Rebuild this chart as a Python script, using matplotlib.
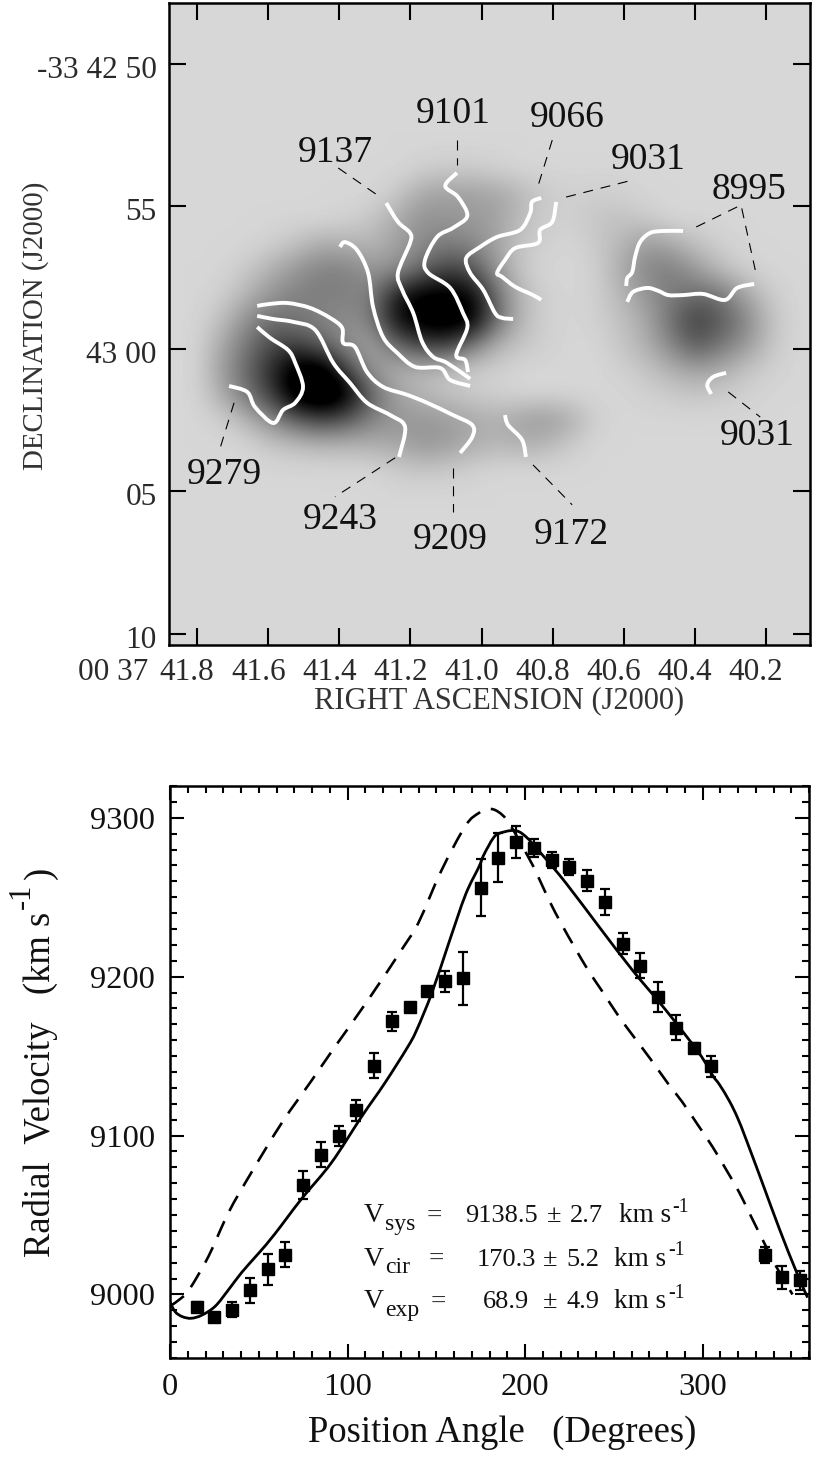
import matplotlib
matplotlib.use("Agg")
import matplotlib.pyplot as plt
import matplotlib.transforms as mtrans
from matplotlib.patches import PathPatch
from matplotlib.path import Path
import numpy as np

plt.rcParams['font.family'] = ['Liberation Serif', 'DejaVu Serif']

flux = [
    [0,0,0,0,0,0,0,0,0,0,0,0,0,0,0,0,0,0,0,0,0,0,0,0,0],
    [0,0,0,0,0,0,0,0,0,3,6,5,3,0,0,0,0,0,0,0,0,0,0,0,0],
    [0,0,0,0,0,0,0,0,6,22,26,26,24,15,6,3,4,3,0,0,0,0,0,0,0],
    [0,0,0,0,0,0,2,8,20,32,30,28,25,12,4,3,8,10,6,0,0,0,0,0,0],
    [0,0,0,3,10,20,18,15,25,35,42,38,24,8,3,0,6,15,28,22,10,3,0,0,0],
    [0,0,6,18,30,40,40,30,32,50,70,62,30,7,0,0,3,20,38,42,28,12,3,0,0],
    [0,3,15,30,40,42,40,40,85,105,105,100,50,14,3,0,3,15,30,42,50,45,22,5,0],
    [0,10,32,48,44,38,34,40,95,110,115,110,52,14,3,0,3,10,22,48,72,58,38,10,0],
    [0,20,44,65,70,55,34,22,50,70,75,45,18,8,3,0,0,8,18,38,60,45,30,8,0],
    [0,25,50,80,110,115,70,30,18,15,10,5,3,0,0,0,0,3,8,18,25,20,8,3,0],
    [0,18,45,70,115,130,110,55,25,15,10,5,3,0,0,0,0,0,3,5,8,5,3,0,0],
    [0,3,15,35,55,70,60,40,30,30,28,22,18,25,30,20,3,0,0,0,0,0,0,0,0],
    [0,0,0,8,12,15,15,18,22,30,28,20,15,18,15,5,0,0,0,0,0,0,0,0,0],
    [0,0,0,0,0,0,0,0,5,8,6,3,0,0,0,0,0,0,0,0,0,0,0,0,0],
    [0,0,0,0,0,0,0,0,0,0,0,0,0,0,0,0,0,0,0,0,0,0,0,0,0],
]
map_extent = [41.841, 40.083, 15.56, 2.40]

# contours (RA seconds, arcsec below -33 42 50)
c9279_ra = [41.710,41.659,41.637,41.586,41.558,41.524,41.502,41.524,41.544,41.595,41.631]
c9279_de = [11.30,11.51,12.04,12.60,12.14,11.89,11.33,10.49,10.04,9.61,9.23]
c9243_ra = [41.232,41.215,41.257,41.322,41.370,41.417,41.468,41.530,41.586,41.631]
c9243_de = [13.79,12.74,12.32,11.89,11.19,10.49,9.33,9.05,8.95,8.84]
c9209_ra = [41.060,41.026,41.026,41.080,41.153,41.209,41.277,41.322,41.356,41.389,41.392,41.426,41.482,41.544,41.595,41.631]
c9209_de = [13.65,13.09,12.67,12.32,11.89,11.61,11.33,10.81,9.93,9.79,9.26,8.91,8.56,8.39,8.42,8.49]
c9172a_ra = [40.934,40.925,40.886,40.875]
c9172a_de = [12.32,12.67,13.19,13.79]
c9172b_ra = [41.398,41.384,41.350,41.319,41.305,41.277,41.237,41.187,41.116,41.088,41.032]
c9172b_de = [6.42,6.25,6.53,7.33,8.53,9.58,10.14,10.63,10.67,11.09,11.30]
c9137_ra = [41.268,41.235,41.201,41.201,41.235,41.223,41.192,41.167,41.136,41.097,41.032]
c9137_de = [4.88,5.54,5.93,6.28,7.33,7.93,8.74,9.75,10.28,10.49,11.05]
c9101_ra = [41.069,41.102,41.066,41.040,41.080,41.125,41.159,41.150,41.088,41.052,41.040,41.071,41.046,41.038]
c9101_de = [3.82,4.28,4.67,5.33,5.75,6.07,6.88,7.33,7.86,8.74,9.26,10.21,10.39,10.81]
c9066_ra = [40.832,40.858,40.863,40.891,40.956,41.004,41.043,41.032,40.995,40.962,40.942,40.911]
c9066_de = [4.70,4.84,5.23,5.82,6.07,6.42,6.81,7.33,7.93,8.74,8.91,8.95]
c9031a_ra = [40.790,40.801,40.835,40.841,40.905,40.934,40.956,40.942,40.905,40.855,40.832]
c9031a_de = [4.84,5.54,5.82,6.28,6.46,6.88,7.33,7.47,7.82,8.11,8.28]
c8995a_ra = [40.433,40.489,40.526,40.554,40.568,40.576,40.590,40.593]
c8995a_de = [5.86,5.86,5.93,6.25,6.77,7.30,7.51,7.79]
c8995b_ra = [40.590,40.574,40.534,40.503,40.475,40.433,40.377,40.315,40.281,40.233]
c8995b_de = [8.35,8.00,7.86,7.96,8.11,8.11,8.07,8.28,7.86,7.72]
c9031b_ra = [40.312,40.348,40.365,40.354]
c9031b_de = [10.84,10.98,11.26,11.58]

contours = [(c9279_ra, c9279_de), (c9243_ra, c9243_de), (c9209_ra, c9209_de),
            (c9172a_ra, c9172a_de), (c9172b_ra, c9172b_de), (c9137_ra, c9137_de),
            (c9101_ra, c9101_de), (c9066_ra, c9066_de), (c9031a_ra, c9031a_de),
            (c8995a_ra, c8995a_de), (c8995b_ra, c8995b_de), (c9031b_ra, c9031b_de)]

leaders = [([41.696,41.735], [11.89,13.47]),
           ([41.243,41.412], [13.82,15.19]),
           ([41.080,41.080], [14.18,15.72]),
           ([40.855,40.745], [14.07,15.47]),
           ([41.403,41.285], [3.65,4.67]),
           ([41.069,41.069], [2.67,3.54]),
           ([40.801,40.841], [2.67,4.28]),
           ([40.762,40.574], [4.67,4.07]),
           ([40.396,40.270,40.230], [5.72,4.95,7.23]),
           ([40.306,40.216], [11.51,12.39])]

vel_labels = ['9101', '9066', '9137', '9031', '8995', '9031', '9279', '9243', '9209', '9172']
vel_label_ra = [41.080, 40.759, 41.412, 40.531, 40.247, 40.225, 41.724, 41.398, 41.088, 40.748]
vel_label_de = [1.73, 1.87, 3.10, 3.35, 4.40, 13.03, 14.40, 15.98, 16.68, 16.51]

ra_ticks = [41.8, 41.6, 41.4, 41.2, 41.0, 40.8, 40.6, 40.4, 40.2]
de_ticks = [0, 5, 10, 15, 20]
de_ticklabels = ['-33 42 50', '55', '43 00', '05', '10']

# ---- bottom panel
pa = [15,25,35,45,55,65,75,85,95,105,115,125,135,145,155,165,175,185,195,205,
      215,225,235,245,255,265,275,285,295,305,335,345,355]
vel = [8992,8985.5,8990.5,9002.7,9015.7,9025,9069,9088,9100,9116,9144,9172,9181,9191,9197,9199,9256,9275,9285,9281,
       9273.5,9269,9260.5,9247,9220.7,9207,9187,9168,9155,9143.5,9025,9010.7,9009]
vel_err = [3,3,5,7.9,10,8,8.8,8,6.3,6.6,7.8,6,2,2,6.5,16.7,18,15.5,10,5.5,
           5,5,6.6,8,6.5,8,9.5,8,3,6.5,5,7,6]

model_pa = [0,3,7,12,18,25.5,33,40.5,50,59,74,91,108,121,133.5,138.8,147.6,157,166.5,174,176.5,179.6,182,185,
            193.7,200,209.5,223,242,260.6,279.3,298,305.6,309.6,315.2,319.7,324.6,333.8,343.4,352.8,359.2]
model_vel = [8995,8989,8986,8985,8987,8992.6,9003,9014,9026,9038,9060,9083,9112,9133,9155,9166,9190,9221,9251.6,9269,9276,9282.5,9287,9290,
             9292,9288.6,9277,9259,9231,9204,9179,9152,9138,9132,9121.6,9111.3,9097.5,9070,9041,9014.5,8998]
circ_pa = [0,6.7,11.4,21.7,33,46,63,80,93,111.4,131.7,140,153,166.5,174,179.6,185,
           191,202,207,213.6,220.6,227.7,235.6,244,252.4,261.4,270.8,280.4,288.7,297.2,305.6,313.3,320.8,327.4,333.8,341.5,350.7]
circ_vel = [8992.6,8998,9004,9024,9051.6,9077,9108,9135,9156,9185,9219,9234,9267,9295,9303,9305.6,9303.7,
            9296.6,9275,9264,9248,9233,9219,9204,9190,9175.7,9162,9148,9133,9121,9107,9093,9078.6,9064,9049,9034.6,9017.6,9000]

row_names = ['V', 'V', 'V']
row_subs = ['sys', 'cir', 'exp']
row_vals = ['9138.5', '170.3', '68.9']
row_errs = ['2.7', '5.2', '4.9']
row_units = 'km s'
row_sup = '-1'


def smooth_path(x, y):
    # catmull-rom through the read points, drawn as beziers
    pts = np.column_stack([x, y])
    n = len(pts)
    verts = [pts[0]]
    codes = [Path.MOVETO]
    for i in range(n - 1):
        p0, p1, p2, p3 = pts[max(i - 1, 0)], pts[i], pts[i + 1], pts[min(i + 2, n - 1)]
        verts += [p1 + (p2 - p0) / 6, p2 - (p3 - p1) / 6, p2]
        codes += [Path.CURVE4] * 3
    return Path(verts, codes)


fig = plt.figure(figsize=(8.30, 14.63), dpi=100)
W, H = 830.0, 1463.0

ax = fig.add_axes([169/W, 1-645/H, 641/W, 642/H])
ax.set_facecolor('#d7d7d7')
ax.imshow(flux, extent=map_extent, cmap='gray_r', vmin=-19.05, vmax=100,
          interpolation='bicubic', aspect='auto')
for ra, de in contours:
    ax.add_patch(PathPatch(smooth_path(ra, de), fill=False, edgecolor='white', lw=2.8, capstyle='butt'))
for ra, de in leaders:
    ax.plot(ra, de, color='black', lw=0.8, dashes=(9, 7))
for s, ra, de in zip(vel_labels, vel_label_ra, vel_label_de):
    ax.text(ra, de, s, fontsize=27, ha='center', va='center', color='#111111')
ax.set_xlim(41.879, 40.076)
ax.set_ylim(20.39, -2.14)
ax.set_xticks(ra_ticks)
ax.set_xticklabels(['%.1f' % t for t in ra_ticks])
ax.set_yticks(de_ticks)
ax.set_yticklabels(de_ticklabels)
ax.tick_params(axis='both', which='major', direction='in', length=12, width=1.5,
               labelsize=22.5, top=True, right=True, color='black', labelcolor='#2a2a2a', pad=9)
for s in ax.spines.values():
    s.set_linewidth(1.8)
# the printed labels sit a little left of / below their ticks
for lab in ax.get_xticklabels():
    lab.set_transform(lab.get_transform() + mtrans.ScaledTranslation(-10/100, 0, fig.dpi_scale_trans))
for lab in ax.get_yticklabels():
    lab.set_transform(lab.get_transform() + mtrans.ScaledTranslation(0, -3/100, fig.dpi_scale_trans))
fig.text(148/W, 1-673/H, '00 37', fontsize=22.5, color='#2a2a2a', ha='right', va='center')
fig.text(499/W, 1-701/H, 'RIGHT ASCENSION (J2000)', fontsize=22, color='#333333', ha='center', va='center')
fig.text(36/W, 1-326/H, 'DECLINATION (J2000)', fontsize=20.8, color='#333333', ha='center', va='center', rotation=90)

ax2 = fig.add_axes([170/W, 1-1358/H, 639/W, 572/H])
ax2.add_patch(PathPatch(smooth_path(model_pa, model_vel), fill=False, edgecolor='black', lw=2.0))
ax2.add_patch(PathPatch(smooth_path(circ_pa, circ_vel), fill=False, edgecolor='black', lw=1.9,
                        linestyle=(0, (6.5, 4.3)), capstyle='butt'))
ax2.errorbar(pa, vel, yerr=vel_err, fmt='s', color='black', ms=9.2, elinewidth=1.6,
             capsize=3.6, capthick=1.6, zorder=3)
ax2.set_xlim(0, 360)
ax2.set_ylim(8960, 9320)
ax2.set_xticks([0, 100, 200, 300])
ax2.set_xticks(np.arange(0, 361, 10), minor=True)
ax2.set_yticks([9000, 9100, 9200, 9300])
ax2.set_yticks(np.arange(8960, 9321, 10), minor=True)
ax2.tick_params(axis='both', which='major', direction='in', length=10, width=1.5,
                top=True, right=True, labelsize=23.4, labelcolor='#111111')
ax2.tick_params(axis='both', which='minor', direction='in', length=5, width=1.5,
                top=True, right=True)
ax2.tick_params(axis='x', pad=11)
ax2.tick_params(axis='y', pad=11)
for s in ax2.spines.values():
    s.set_linewidth(1.8)
fig.text(502/W, 1-1433/H, 'Position Angle   (Degrees)', fontsize=26.4, color='#111111', ha='center', va='center')
fig.text(40/W, 1-912/H, 'Radial  Velocity   (km s', fontsize=26.4, color='#111111',
         ha='center', va='top', rotation=90)
fig.text(22/W, 1-896/H, '-1', fontsize=22, color='#111111', ha='center', va='center', rotation=90)
fig.text(40/W, 1-873/H, ')', fontsize=26.4, color='#111111', ha='center', va='center', rotation=90)

row_y = [9045.3, 9018.2, 8991.2]
eq_x = [149, 150, 151.3]
val_x = [166.5, 172.7, 176]
pm_x = [212.3, 210, 210]
err_x = [225.5, 223.2, 223.2]
unit_x = [252.8, 250.4, 250.4]
sup_x = [282.9, 280.5, 280.5]
tc = '#111111'
for i in range(3):
    y = row_y[i]
    ax2.text(109, y, row_names[i], fontsize=20, ha='left', va='baseline', color=tc)
    ax2.text(121.2, y - 5, row_subs[i], fontsize=17, ha='left', va='baseline', color=tc)
    ax2.text(eq_x[i], y, '=', fontsize=19.5, ha='center', va='baseline', color='#333333')
    ax2.text(val_x[i], y, row_vals[i], fontsize=19, ha='left', va='baseline', color=tc)
    ax2.text(pm_x[i], y, '\u00b1', fontsize=19, ha='left', va='baseline', color=tc)
    ax2.text(err_x[i], y, row_errs[i], fontsize=19, ha='left', va='baseline', color=tc)
    ax2.text(unit_x[i], y, row_units, fontsize=19.5, ha='left', va='baseline', color=tc)
    ax2.text(sup_x[i], y + 6.5, row_sup, fontsize=14.4, ha='left', va='baseline', color=tc)

fig.savefig('out.png', dpi=100)
